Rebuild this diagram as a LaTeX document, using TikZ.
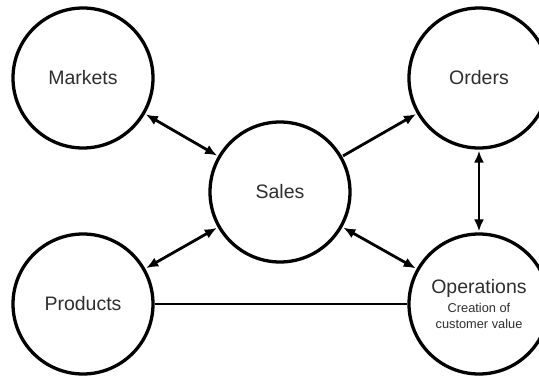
\documentclass[tikz,border=0pt]{standalone}
\usepackage{fontspec}
\setmainfont{Liberation Sans}
\usetikzlibrary{arrows.meta}
\begin{document}
\begin{tikzpicture}[x=1pt,y=1pt,
  bubble/.style={circle,draw=black,line width=3.3pt,minimum size=140pt,inner sep=0pt,
    font=\fontsize{19.5}{22}\selectfont,text=black!82,align=center},
  link/.style={line width=2.8pt,shorten <=1pt,shorten >=1pt},
  lbl/.style={align=center,text=black!82,inner sep=0pt}
]
\useasboundingbox (0,0) rectangle (539,376);
\clip (0,0) rectangle (539,376);
\node[bubble] (markets) at (83,298) {Markets};
\node[bubble] (orders) at (479,298) {Orders};
\node[bubble] (sales) at (280,184) {Sales};
\node[bubble] (products) at (83,72) {Products};
\node[bubble] (ops) at (479,72) {};
\node[lbl,font=\fontsize{19.5}{22}\selectfont] (opstitle) at (479,88) {Operations};
\node[lbl,font=\fontsize{12.8}{16}\selectfont] (opssub) at (479,60) {Creation of\\customer value};
\draw[link,{Latex[length=12pt,width=10pt]}-{Latex[length=12pt,width=10pt]}] (markets) -- (sales);
\draw[link,-{Latex[length=12pt,width=10pt]}] (sales) -- (orders);
\draw[link,{Latex[length=12pt,width=10pt]}-{Latex[length=12pt,width=10pt]}] (orders) -- (ops);
\draw[link,{Latex[length=12pt,width=10pt]}-{Latex[length=12pt,width=10pt]}] (products) -- (sales);
\draw[link,{Latex[length=12pt,width=10pt]}-{Latex[length=12pt,width=10pt]}] (sales) -- (ops);
\draw[line width=2.8pt] (products) -- (ops);
\end{tikzpicture}
\end{document}
